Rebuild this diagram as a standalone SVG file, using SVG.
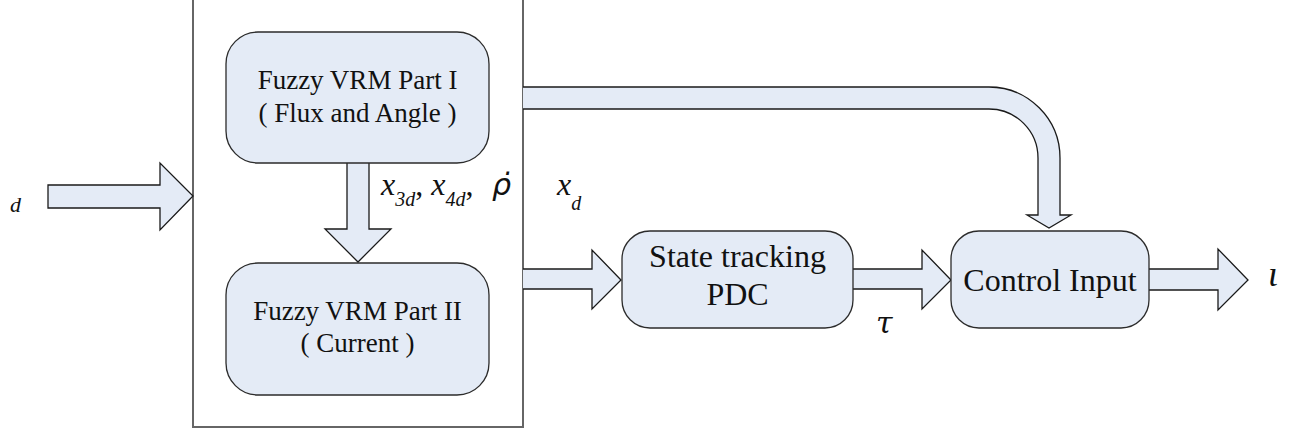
<svg xmlns="http://www.w3.org/2000/svg" width="1289" height="431" viewBox="0 0 1289 431">
<style>
.box{fill:#e4ebf6;stroke:#2b2b2b;stroke-width:1.3}
.arr{fill:#e4ebf6;stroke:#1a1a1a;stroke-width:1.3;stroke-linejoin:miter}
.t{font-family:"Liberation Serif","Times New Roman",serif;fill:#111;text-anchor:middle}
.m{font-family:"Liberation Serif","Times New Roman",serif;font-style:italic;fill:#111}
</style>
<rect width="1289" height="431" fill="#fff"/>
<g id="outer"><rect x="193" y="-4" width="330" height="431" fill="none" stroke="#666" stroke-width="2"/></g>
<g id="connectors">
<path class="arr" d="M48,185 H160 V163 L193,196 L160,230 V208 H48 Z"/>
<path class="arr" d="M347,163 V229 H325 L358,262 L391,229 H369 V163"/>
<path class="arr" d="M523,87 H989 A71,71 0 0 1 1060,158 V215 H1071 L1049,228 L1027,215 H1038 V158 A49,49 0 0 0 989,109 H523"/>
<path class="arr" d="M523,269 H592 V250 L621,280 L592,309 V289 H523"/>
<path class="arr" d="M853,269 H922 V250 L951,280 L922,309 V289 H853"/>
<path class="arr" d="M1149,269 H1218 V249 L1248,280 L1218,310 V290 H1149"/>
</g>
<g id="fuzzy1">
<rect class="box" x="226" y="32" width="263" height="131" rx="32"/>
<text class="t" x="357.5" y="89" font-size="27">Fuzzy VRM Part I</text>
<text class="t" x="357.5" y="122" font-size="27">( Flux and Angle )</text>
</g>
<g id="fuzzy2">
<rect class="box" x="226" y="263" width="263" height="132" rx="32"/>
<text class="t" x="357.5" y="320" font-size="27">Fuzzy VRM Part II</text>
<text class="t" x="357.5" y="352" font-size="27">( Current )</text>
</g>
<g id="pdc">
<rect class="box" x="622" y="231" width="231" height="97" rx="28"/>
<text class="t" x="737.5" y="267" font-size="32">State tracking</text>
<text class="t" x="737.5" y="305" font-size="32">PDC</text>
</g>
<g id="control">
<rect class="box" x="951" y="231" width="198" height="97" rx="28"/>
<text class="t" x="1050" y="291" font-size="32">Control Input</text>
</g>
<g id="labels">
<text class="m" x="10" y="212" font-size="22">d</text>
<text class="m" x="381" y="195" font-size="32">x<tspan font-size="20" dy="11">3d</tspan><tspan font-style="normal" dy="-11">, </tspan>x<tspan font-size="20" dy="11">4d</tspan><tspan font-style="normal" dy="-11">, </tspan></text>
<text x="492" y="195" font-size="30" font-family="'DejaVu Sans',sans-serif" font-style="italic" fill="#111">ρ̇</text>
<text class="m" x="557" y="195" font-size="32">x<tspan font-size="20" dy="15">d</tspan></text>
<text x="876" y="333" font-size="30" font-family="'DejaVu Serif',serif" font-style="italic" fill="#111">τ</text>
<text class="m" x="1268" y="286" font-size="36">ι</text>
</g>
</svg>
